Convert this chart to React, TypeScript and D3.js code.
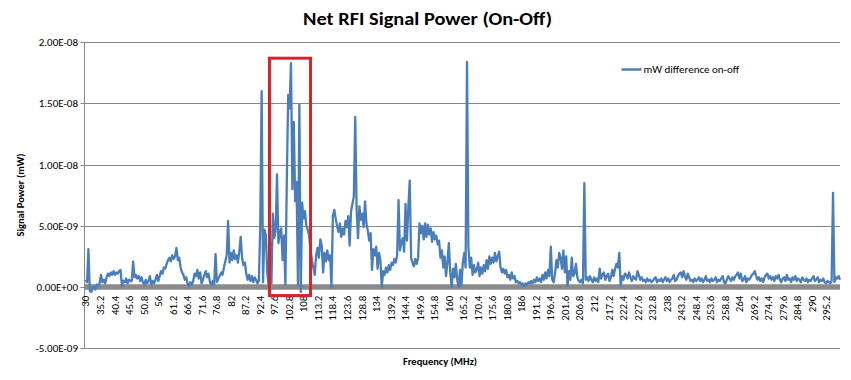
import React from "react";
import * as d3 from "d3";

// Frequency sampling of the series (MHz)
const START_MHZ = 30;
const STEP_MHZ = 0.5;

// Net RFI signal power, in units of 1e-9 mW, one line per 10 MHz
const netPower: number[] = [
  0.6,0.4,3.1,-0.3,-0.4,-0.1,0.1,-0.2,0.2,0.1,0.3,1.0,0.4,0.6,0.3,0.8,1.1,0.9,1.2,1.0,
  1.3,1.0,1.2,1.1,1.3,1.4,0.1,0.5,0.4,0.7,0.3,0.6,0.5,0.5,2.1,0.8,1.0,0.7,0.9,0.5,
  0.8,0.4,0.2,0.6,0.3,0.5,0.9,0.2,0.5,0.3,0.6,1.0,0.5,0.9,1.3,1.1,1.6,1.5,1.9,2.2,
  2.4,2.1,2.6,2.3,2.5,3.2,2.2,2.4,1.6,1.2,1.0,0.6,0.8,0.3,0.1,0.4,0.2,0.5,1.1,0.9,
  1.4,0.7,1.2,0.3,0.6,1.0,1.3,0.8,1.1,0.4,0.2,0.5,0.2,2.7,0.4,0.7,0.9,1.2,1.0,1.6,
  2.1,2.6,5.4,2.0,2.8,2.2,3.0,2.3,2.6,2.0,2.9,4.1,2.4,1.8,2.0,1.1,0.6,1.0,0.5,0.9,
  0.4,0.8,0.6,0.3,0.5,4.9,16.0,0.4,4.7,4.3,1.2,0.2,3.7,0.3,6.0,4.0,4.6,9.2,3.6,4.4,
  4.8,2.2,4.2,0.2,8.5,15.7,14.6,18.3,8.0,13.5,7.0,8.6,0.2,14.9,-0.4,6.9,5.6,6.2,5.0,4.7,
  4.2,3.0,2.2,1.6,1.0,2.6,3.2,2.4,3.9,3.4,1.2,2.8,2.1,3.0,2.2,2.6,0.0,5.8,6.3,5.6,
  5.0,4.5,5.2,4.1,4.8,4.3,5.4,4.9,5.8,3.4,6.2,6.8,7.4,13.9,6.3,4.0,6.6,5.5,6.0,4.9,
  7.0,5.2,4.6,3.8,4.4,1.4,3.1,2.6,3.3,1.5,2.8,2.2,0.0,1.3,1.0,1.6,1.2,1.8,1.4,2.0,
  1.8,2.3,2.0,2.6,7.1,3.0,3.6,4.0,2.9,6.8,3.8,6.5,8.7,2.4,2.0,1.7,2.3,1.9,2.4,5.2,
  4.4,5.0,3.9,5.2,4.1,5.1,4.3,4.8,3.7,4.5,3.9,4.2,3.5,3.8,2.4,3.0,1.6,2.5,0.9,2.0,
  3.6,1.2,0.0,1.5,0.8,1.9,0.6,0.0,1.4,0.1,2.0,2.8,1.6,18.4,3.3,1.6,2.4,1.0,1.8,1.2,
  1.4,2.0,0.9,1.6,1.1,1.8,1.3,2.2,1.5,2.5,1.9,2.4,2.0,2.8,2.1,2.5,2.9,1.6,1.2,1.5,
  1.1,1.4,0.8,1.0,0.6,1.2,0.7,0.9,0.4,0.5,0.3,0.4,0.2,0.3,0.1,0.3,0.2,0.4,0.3,0.5,
  0.3,0.6,0.4,0.8,0.5,0.7,0.4,1.0,0.6,1.2,0.7,1.4,0.9,3.3,0.6,0.4,1.1,2.2,1.6,2.8,
  2.4,1.5,3.0,1.2,2.5,0.1,1.3,0.6,2.4,0.9,1.1,1.9,0.8,0.5,0.4,0.6,0.3,8.5,0.6,0.8,
  0.5,0.9,0.6,0.4,0.8,0.5,0.7,0.4,1.5,0.7,1.0,1.2,0.6,0.9,1.1,0.5,0.8,1.4,0.9,1.5,
  1.9,1.6,2.8,0.1,0.9,0.6,1.1,1.0,0.7,1.2,0.8,0.5,0.9,0.7,0.6,1.3,1.0,0.6,0.8,0.5,
  0.6,0.4,0.7,0.5,0.6,0.4,0.5,0.7,0.8,0.4,0.6,0.5,0.7,0.4,0.6,0.8,0.5,0.7,0.4,0.6,
  0.7,1.0,0.5,0.6,0.9,1.1,1.2,0.8,1.3,0.9,0.6,1.1,0.8,0.5,0.6,0.4,0.7,0.5,0.6,0.8,
  0.5,0.7,0.4,0.6,0.9,0.5,0.6,0.4,0.7,0.5,0.6,0.8,0.4,0.6,0.5,0.7,0.9,0.4,0.3,0.6,
  0.9,0.7,0.5,0.8,0.6,0.9,1.0,1.2,0.7,1.1,0.5,0.6,0.9,0.4,0.7,0.6,0.8,1.0,1.1,1.3,
  0.9,0.6,0.8,0.5,0.7,0.4,0.8,1.0,1.1,0.7,0.9,0.6,0.8,0.5,0.9,0.7,1.0,0.6,0.4,0.7,
  0.8,0.5,1.0,0.6,0.7,0.4,0.8,0.6,0.9,0.5,0.7,0.6,0.4,0.8,0.6,0.5,0.7,0.4,0.6,0.5,
  0.7,0.9,0.5,0.6,0.8,0.4,0.6,0.5,0.7,0.4,0.3,0.5,0.4,0.3,0.5,7.7,0.4,0.8,0.7,0.9,0.6,
];
const POWER_UNIT = 1e-9;

const xTickLabels = [
  "30","35.2","40.4","45.6","50.8","56","61.2","66.4","71.6","76.8","82","87.2","92.4",
  "97.6","102.8","108","113.2","118.4","123.6","128.8","134","139.2","144.4","149.6",
  "154.8","160","165.2","170.4","175.6","180.8","186","191.2","196.4","201.6","206.8",
  "212","217.2","222.4","227.6","232.8","238","243.2","248.4","253.6","258.8","264",
  "269.2","274.4","279.6","284.8","290","295.2",
];
const yTickValues = [-5e-9, 0, 5e-9, 1e-8, 1.5e-8, 2e-8];
const yTickLabels = ["-5.00E-09","0.00E+00","5.00E-09","1.00E-08","1.50E-08","2.00E-08"];

// Highlighted band (red box), in data units
const highlightMHz = [95.8, 110.5];
const highlightPower = [-0.69e-9, 1.87e-8];

const TITLE = "Net RFI Signal Power (On-Off)";
const X_TITLE = "Frequency (MHz)";
const Y_TITLE = "Signal Power (mW)";
const SERIES_NAME = "mW difference on-off";

const W = 851, H = 380;
const PLOT = { left: 84.5, right: 840, top: 42.3, bottom: 348.3 };
const FONT = "Carlito, Calibri, Lato, 'Liberation Sans', sans-serif";
const BLUE = "#4A7EBB";
const GRID = "#878787";

export default function App() {
  const x = d3.scaleLinear().domain([29.6, 300.0]).range([PLOT.left, PLOT.right]);
  const y = d3.scaleLinear().domain([-5e-9, 2e-8]).range([PLOT.bottom, PLOT.top]);

  const pts = netPower.map((v, i) => [START_MHZ + i * STEP_MHZ, v * POWER_UNIT] as [number, number]);
  const line = d3.line<[number, number]>().x(d => x(d[0])).y(d => y(d[1]));
  const y0 = y(0);

  return (
    <svg width={W} height={H} style={{ position: "absolute", left: 0, top: 0, background: "#fff" }}
      fontFamily={FONT}>
      <rect x={0} y={0} width={W} height={H} fill="#fff" />
      <text x={427.5} y={25} textAnchor="middle" fontSize={19} fontWeight="bold" fill="#000"
        textLength={249} lengthAdjust="spacingAndGlyphs">{TITLE}</text>

      {/* gridlines */}
      {yTickValues.map((t, i) => t !== 0 && (
        <line key={"g" + i} x1={PLOT.left} x2={PLOT.right} y1={Math.round(y(t)) + 0.5} y2={Math.round(y(t)) + 0.5}
          stroke={GRID} strokeWidth={1} />
      ))}
      {/* y axis */}
      <line x1={PLOT.left} x2={PLOT.left} y1={PLOT.top} y2={PLOT.bottom} stroke={GRID} strokeWidth={1} />
      {yTickValues.map((t, i) => (
        <g key={"yt" + i}>
          <line x1={PLOT.left - 4} x2={PLOT.left} y1={Math.round(y(t)) + 0.5} y2={Math.round(y(t)) + 0.5} stroke={GRID} />
          <text x={78} y={y(t)} dy="0.35em" textAnchor="end" fontSize={11} fill="#000">{yTickLabels[i]}</text>
        </g>
      ))}

      {/* zero axis band */}
      <line x1={PLOT.left} x2={PLOT.right} y1={y0} y2={y0} stroke="#8a8a8a" strokeWidth={5.5} />

      {/* series */}
      <path d={line(pts) || ""} fill="none" stroke={BLUE} strokeWidth={2.3} strokeLinejoin="round" />

      {/* x tick labels */}
      {xTickLabels.map((lab, i) => {
        const xx = x(parseFloat(lab));
        return (
          <text key={"xt" + i} transform={`translate(${xx},${y0 + 8.5}) rotate(-90)`} dy="0.35em"
            textAnchor="end" fontSize={11} fill="#000">{lab}</text>
        );
      })}

      {/* highlight box */}
      <rect x={x(highlightMHz[0])} y={y(highlightPower[1])} width={x(highlightMHz[1]) - x(highlightMHz[0])}
        height={y(highlightPower[0]) - y(highlightPower[1])} fill="none" stroke="#D9232B" strokeWidth={3} />

      {/* axis titles */}
      <text x={440} y={365} textAnchor="middle" fontSize={10.5} fontWeight="bold" fill="#000">{X_TITLE}</text>
      <text transform={`translate(24,195) rotate(-90)`} textAnchor="middle" fontSize={10.5} fontWeight="bold" fill="#000">{Y_TITLE}</text>

      {/* legend */}
      <line x1={621.5} x2={641.5} y1={69.5} y2={69.5} stroke={BLUE} strokeWidth={2.5} />
      <text x={643.5} y={69.5} dy="0.35em" fontSize={11} fill="#000">{SERIES_NAME}</text>
    </svg>
  );
}
